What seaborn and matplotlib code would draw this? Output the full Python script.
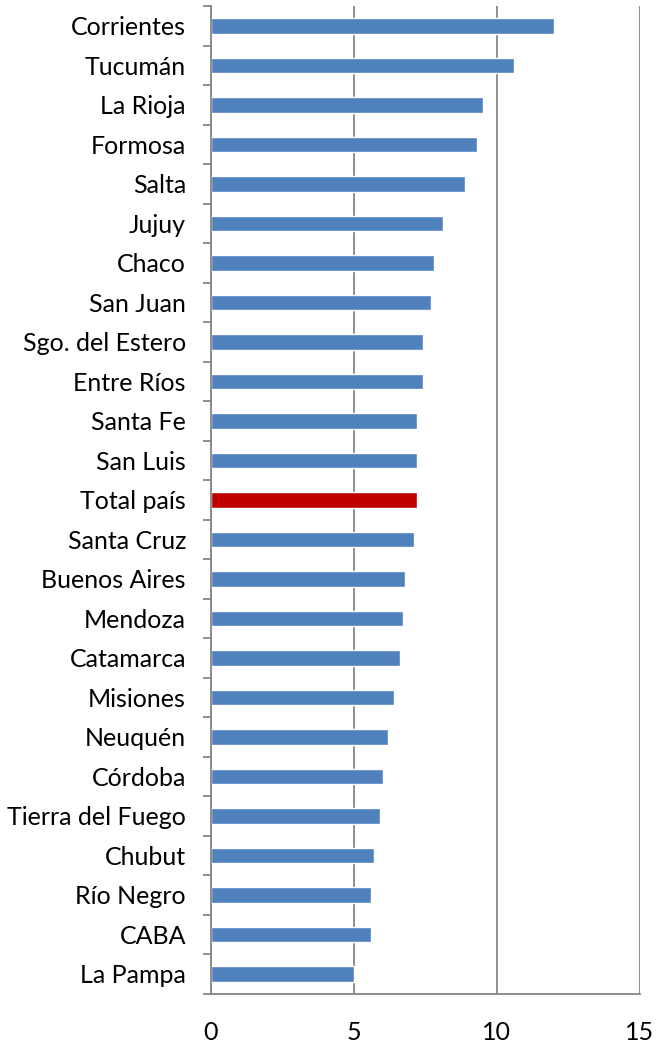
import matplotlib
matplotlib.use("Agg")
import matplotlib.pyplot as plt
import seaborn as sns
import pandas as pd
from matplotlib.ticker import FixedLocator

provincias = [
    "Corrientes", "Tucumán", "La Rioja", "Formosa", "Salta", "Jujuy", "Chaco",
    "San Juan", "Sgo. del Estero", "Entre Ríos", "Santa Fe", "San Luis",
    "Total país", "Santa Cruz", "Buenos Aires", "Mendoza", "Catamarca",
    "Misiones", "Neuquén", "Córdoba", "Tierra del Fuego", "Chubut",
    "Río Negro", "CABA", "La Pampa",
]
valores = [
    12.0, 10.6, 9.5, 9.3, 8.9, 8.1, 7.8, 7.7, 7.4, 7.4, 7.2, 7.2,
    7.2, 7.1, 6.8, 6.7, 6.6, 6.4, 6.2, 6.0, 5.9, 5.7, 5.6, 5.6, 5.0,
]
xticks = [0, 5, 10, 15]

sns.set_theme(style="white")
plt.rcParams["font.family"] = ["Lato", "DejaVu Sans"]

df = pd.DataFrame({"provincia": provincias, "valor": valores})
colores = {p: ("#C00000" if p == "Total país" else "#4F81BD") for p in provincias}

fig = plt.figure(figsize=(6.57, 10.5), dpi=100)
ax = fig.add_axes([0.321, 0.0536, 0.653, 0.9405])

sns.barplot(data=df, x="valor", y="provincia", hue="provincia", palette=colores,
            legend=False, width=0.4, saturation=1, ax=ax)

gris = "#868686"
ax.set_xlim(0, 15)
ax.set_ylim(len(provincias) - 0.5, -0.5)
ax.set_xticks(xticks)
ax.set_xticklabels([str(t) for t in xticks])
ax.xaxis.grid(True, color=gris, linewidth=1.3)
ax.set_axisbelow(True)
ax.set_xlabel("")
ax.set_ylabel("")

for s in ["top", "right"]:
    ax.spines[s].set_visible(False)
for s in ["left", "bottom"]:
    ax.spines[s].set_color(gris)
    ax.spines[s].set_linewidth(1.3)

ax.tick_params(axis="x", which="major", length=6, width=1.3, color=gris,
               direction="out", pad=14, labelsize=18, labelcolor="black")
ax.tick_params(axis="y", which="major", length=0, pad=18, labelsize=18,
               labelcolor="black")
ax.yaxis.set_minor_locator(FixedLocator([i - 0.5 for i in range(len(provincias) + 1)]))
ax.tick_params(axis="y", which="minor", length=6, width=1.3, color=gris,
               direction="out", left=True)

fig.savefig("out.png", dpi=100)
